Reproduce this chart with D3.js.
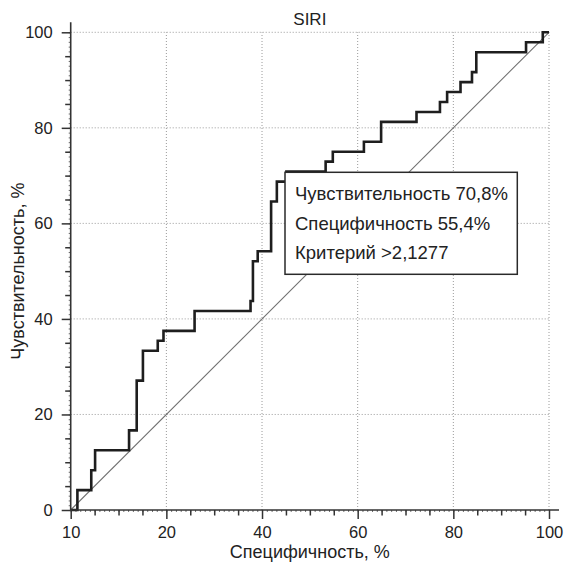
<!DOCTYPE html>
<html>
<head>
<meta charset="utf-8">
<script src="https://cdnjs.cloudflare.com/ajax/libs/d3/7.8.5/d3.min.js"></script>
<style>
  body { margin: 0; background: #fff; }
  svg text { font-family: "Liberation Sans", Arial, sans-serif; fill: #222; }
</style>
</head>
<body>
<svg id="chart" width="566" height="565"></svg>
<script>
// ROC step vertices: 100 - specificity (x) and sensitivity (y), %
const rocSpec = [0, 1.4, 4.3, 5.1, 12.2, 13.8, 15.1, 18.2, 19.4, 25.9, 37.6, 38.1, 39.1, 41.9, 43.1, 45.1,
  53.3, 54.8, 61.3, 64.9, 72.3, 77.2, 78.7, 81.5, 83.9, 84.8, 95.2, 98.7, 100];
const rocSens = [0, 4.17, 8.33, 12.5, 16.67, 27.08, 33.33, 35.42, 37.5, 41.67, 43.75, 52.08, 54.17, 64.58, 68.75, 70.83,
  72.92, 75.0, 77.08, 81.25, 83.33, 85.42, 87.5, 89.58, 91.67, 95.83, 97.92, 100, 100];

const xTicks = [0, 20, 40, 60, 80, 100];
const xTickLabels = ["10", "20", "40", "60", "80", "100"];
const yTicks = [0, 20, 40, 60, 80, 100];
const gridValues = [20, 40, 60, 80, 100];
const infoLines = ["Чувствительность 70,8%", "Специфичность 55,4%", "Критерий >2,1277"];

const svg = d3.select("#chart");

const x = d3.scaleLinear().domain([0, 100]).range([70.7, 549]);
const y = d3.scaleLinear().domain([0, 100]).range([510, 32.3]);

// grid
const grid = svg.append("g")
  .attr("stroke", "#9a9a9a")
  .attr("stroke-width", 1)
  .attr("stroke-dasharray", "1,2");

grid.selectAll(".vgrid")
  .data(gridValues)
  .join("line")
  .attr("class", "vgrid")
  .attr("x1", d => x(d))
  .attr("x2", d => x(d))
  .attr("y1", y(0))
  .attr("y2", y(100));

grid.selectAll(".hgrid")
  .data(gridValues)
  .join("line")
  .attr("class", "hgrid")
  .attr("x1", x(0))
  .attr("x2", x(100))
  .attr("y1", d => y(d))
  .attr("y2", d => y(d));

// reference diagonal
svg.append("line")
  .attr("x1", x(0))
  .attr("y1", y(0))
  .attr("x2", x(100))
  .attr("y2", y(100))
  .attr("stroke", "#707070")
  .attr("stroke-width", 1.1);

// ROC curve
const rocPoints = rocSpec.map((v, i) => [v, rocSens[i]]);
const line = d3.line()
  .x(d => x(d[0]))
  .y(d => y(d[1]))
  .curve(d3.curveStepAfter);

svg.append("path")
  .datum(rocPoints)
  .attr("d", line)
  .attr("fill", "none")
  .attr("stroke", "#1e1e1e")
  .attr("stroke-width", 2.6)
  .attr("stroke-linejoin", "miter");

// info box
const box = svg.append("g").attr("transform", "translate(285,172.3)");
box.append("rect")
  .attr("width", 232.3)
  .attr("height", 102)
  .attr("fill", "#fff")
  .attr("stroke", "#2a2a2a")
  .attr("stroke-width", 1.5);

box.selectAll("text")
  .data(infoLines)
  .join("text")
  .attr("x", 10)
  .attr("y", (d, i) => 28 + i * 29.5)
  .attr("font-size", 18.5)
  .text(d => d);

// axes
const axisColor = "#333";

const drawXAxis = (values, size, labels) => {
  const g = svg.append("g")
    .attr("transform", `translate(0,${y(0)})`)
    .call(d3.axisBottom(x)
      .tickValues(values)
      .tickSize(size)
      .tickPadding(7)
      .tickFormat(labels ? (d, i) => labels[i] : ""));
  g.select(".domain").remove();
  g.selectAll("line").attr("stroke", axisColor).attr("stroke-width", size > 3 ? 1.5 : 0.7);
  g.selectAll("text").attr("font-size", 16.5).attr("fill", "#222");
};

const drawYAxis = (values, size, labels) => {
  const g = svg.append("g")
    .attr("transform", `translate(${x(0)},0)`)
    .call(d3.axisLeft(y)
      .tickValues(values)
      .tickSize(size)
      .tickPadding(9)
      .tickFormat(labels ? d => d : ""));
  g.select(".domain").remove();
  g.selectAll("line").attr("stroke", axisColor).attr("stroke-width", size > 3 ? 1.5 : 0.7);
  g.selectAll("text").attr("font-size", 16.5).attr("fill", "#222");
};

drawXAxis(d3.range(0, 101, 1), 2, null);
drawXAxis(d3.range(5, 100, 5).filter(d => d % 20 !== 0), 5.5, null);
drawXAxis(xTicks, 9, xTickLabels);

drawYAxis(d3.range(0, 101, 1), 2, null);
drawYAxis(d3.range(5, 100, 5).filter(d => d % 20 !== 0), 5.5, null);
drawYAxis(yTicks, 9, true);

// axis lines, extended slightly past the data range
svg.append("line")
  .attr("x1", x(0))
  .attr("x2", x(100) + 10)
  .attr("y1", y(0))
  .attr("y2", y(0))
  .attr("stroke", axisColor)
  .attr("stroke-width", 1.6);

svg.append("line")
  .attr("x1", x(0))
  .attr("x2", x(0))
  .attr("y1", y(0))
  .attr("y2", y(100) - 10)
  .attr("stroke", axisColor)
  .attr("stroke-width", 1.6);

// titles
svg.append("text")
  .attr("x", (x(0) + x(100)) / 2)
  .attr("y", 24.5)
  .attr("text-anchor", "middle")
  .attr("font-size", 17)
  .text("SIRI");

svg.append("text")
  .attr("x", (x(0) + x(100)) / 2)
  .attr("y", 557.5)
  .attr("text-anchor", "middle")
  .attr("font-size", 18)
  .text("Специфичность, %");

svg.append("text")
  .attr("transform", `translate(24,${(y(0) + y(100)) / 2}) rotate(-90)`)
  .attr("text-anchor", "middle")
  .attr("font-size", 18)
  .text("Чувствительность, %");
</script>
</body>
</html>
